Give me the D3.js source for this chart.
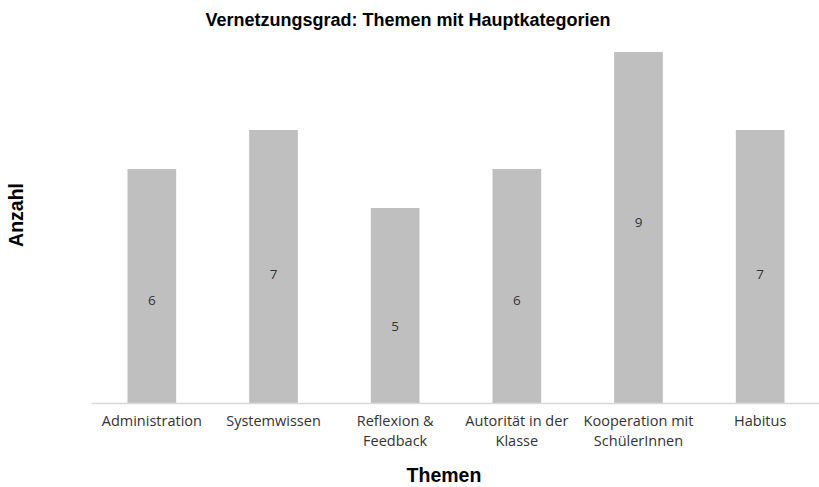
<!DOCTYPE html>
<html>
<head>
<meta charset="utf-8">
<script src="https://cdn.jsdelivr.net/npm/d3@7/dist/d3.min.js"></script>
<style>
  html, body { margin: 0; padding: 0; background: #ffffff; }
  svg { display: block; }
</style>
</head>
<body>
<svg id="chart" width="819" height="487"></svg>
<script>
// Themen und Anzahl der verknüpften Hauptkategorien
const categories = [
  ["Administration"],
  ["Systemwissen"],
  ["Reflexion &", "Feedback"],
  ["Autorität in der", "Klasse"],
  ["Kooperation mit", "SchülerInnen"],
  ["Habitus"]
];
const values = [6, 7, 5, 6, 9, 7];
const titleText = "Vernetzungsgrad: Themen mit Hauptkategorien";
const xTitle = "Themen";
const yTitle = "Anzahl";

const svg = d3.select("#chart");
const plot = { left: 91, right: 821, top: 52, bottom: 403 };

const keys = categories.map(c => c.join(" "));

const x = d3.scaleBand()
  .domain(keys)
  .range([plot.left, plot.right])
  .paddingInner(0.6)
  .paddingOuter(0.3);

const y = d3.scaleLinear()
  .domain([0, 9])
  .range([plot.bottom, plot.top]);

// Bars
svg.append("g")
  .selectAll("rect")
  .data(values)
  .join("rect")
  .attr("x", (d, i) => x(keys[i]))
  .attr("y", d => y(d))
  .attr("width", x.bandwidth())
  .attr("height", d => plot.bottom - y(d))
  .attr("fill", "#bfbfbf");

// Value labels inside the bars
svg.append("g")
  .selectAll("text")
  .data(values)
  .join("text")
  .attr("x", (d, i) => x(keys[i]) + x.bandwidth() / 2)
  .attr("y", d => y(d * 2 / 3) + 58)
  .attr("text-anchor", "middle")
  .attr("font-family", "'Open Sans', sans-serif")
  .attr("font-size", 13.5)
  .attr("fill", "#333333")
  .text(d => d);

// Category axis
const xAxis = svg.append("g")
  .attr("transform", `translate(0,${plot.bottom})`)
  .call(d3.axisBottom(x).tickSize(0).tickSizeOuter(0).tickFormat(() => ""));
xAxis.select(".domain").attr("stroke", "#d9d9d9").attr("stroke-width", 1.3);

xAxis.selectAll(".tick").each(function(k, i) {
  const t = d3.select(this).append("text")
    .attr("text-anchor", "middle")
    .attr("font-family", "'Open Sans', sans-serif")
    .attr("font-size", 14.5)
    .attr("fill", "#333333");
  categories[i].forEach((line, j) => {
    t.append("tspan").attr("x", 0).attr("y", 23 + j * 20).text(line);
  });
});

// Title
svg.append("text")
  .attr("x", 408)
  .attr("y", 26)
  .attr("text-anchor", "middle")
  .attr("font-family", "'Liberation Sans', Arial, sans-serif")
  .attr("font-weight", "bold")
  .attr("font-size", 18)
  .attr("fill", "#000")
  .text(titleText);

// Axis titles
svg.append("text")
  .attr("x", 444)
  .attr("y", 482)
  .attr("text-anchor", "middle")
  .attr("font-family", "'Liberation Sans', Arial, sans-serif")
  .attr("font-weight", "bold")
  .attr("font-size", 19.5)
  .attr("fill", "#000")
  .text(xTitle);

svg.append("text")
  .attr("transform", "translate(23,215) rotate(-90)")
  .attr("text-anchor", "middle")
  .attr("font-family", "'Liberation Sans', Arial, sans-serif")
  .attr("font-weight", "bold")
  .attr("font-size", 19.5)
  .attr("fill", "#000")
  .text(yTitle);
</script>
</body>
</html>
